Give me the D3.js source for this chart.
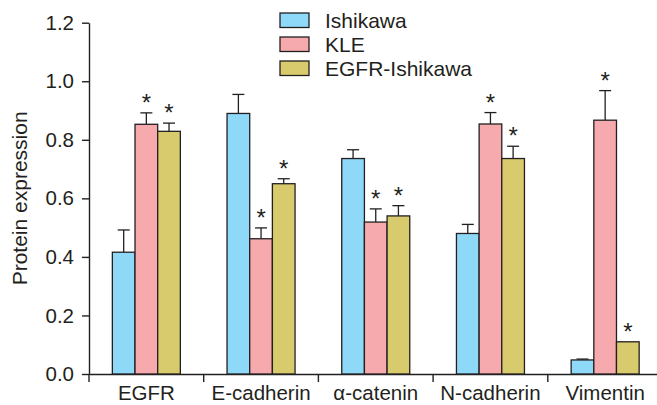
<!DOCTYPE html>
<html>
<head>
<meta charset="utf-8">
<script src="https://cdn.jsdelivr.net/npm/d3@7"></script>
<style>
  body { margin: 0; background: #fff; }
  text { font-family: "Liberation Sans", Arial, sans-serif; fill: #231f20; }
</style>
</head>
<body>
<svg width="657" height="405"></svg>
<script>
// values
const categories = ["EGFR", "E-cadherin", "\u03b1-catenin", "N-cadherin", "Vimentin"]
const seriesNames = ["Ishikawa", "KLE", "EGFR-Ishikawa"]
const ishikawa = [0.416, 0.890, 0.736, 0.480, 0.048]
const ishikawaErr = [0.076, 0.065, 0.030, 0.031, 0.003]
const kle = [0.853, 0.462, 0.519, 0.854, 0.867]
const kleErr = [0.039, 0.037, 0.045, 0.039, 0.101]
const egfrIshikawa = [0.829, 0.650, 0.540, 0.736, 0.110]
const egfrIshikawaErr = [0.028, 0.017, 0.035, 0.042, 0]
const ishikawaSig = [false, false, false, false, false]
const kleSig = [true, true, true, true, true]
const egfrIshikawaSig = [true, true, true, true, true]
const yTicks = [0, 0.2, 0.4, 0.6, 0.8, 1.0, 1.2]

const colors = ["#8ed8f8", "#f7aaad", "#d7cb6e"]
const ink = "#231f20"

function main() {
    const svg = d3.select("svg")

    const values = [ishikawa, kle, egfrIshikawa]
    const errs = [ishikawaErr, kleErr, egfrIshikawaErr]
    const sigs = [ishikawaSig, kleSig, egfrIshikawaSig]

    const x = d3.scaleBand().domain(categories).range([89, 662.5]).padding(0)
    const groupWidth = 68
    const xs = d3.scaleBand().domain(seriesNames).range([0, groupWidth])
    const y = d3.scaleLinear().domain([0, 1.2]).range([374, 22.7])

    // flatten into bar records
    const bars = []
    categories.forEach((c, i) => {
        seriesNames.forEach((s, j) => {
            bars.push({cat: c, series: s, idx: j, value: values[j][i], err: errs[j][i], sig: sigs[j][i]})
        })
    })
    const barX = d => x(d.cat) + (x.bandwidth() - groupWidth) / 2 + xs(d.series)

    // x axis
    const xAxis = svg.append("g")
        .attr("transform", "translate(0," + y(0) + ")")
        .call(d3.axisBottom(x).tickSize(0).tickPadding(11).tickSizeOuter(0))
    xAxis.select(".domain").attr("stroke", ink).attr("stroke-width", 1.4)
    xAxis.selectAll("text").attr("font-size", 20.5).style("fill", ink)

    xAxis.selectAll(".sep")
        .data(categories)
        .enter().append("line")
        .attr("class", "sep")
        .attr("x1", d => x(d)).attr("x2", d => x(d))
        .attr("y1", 0).attr("y2", 8)
        .attr("stroke", ink).attr("stroke-width", 1.4)

    // y axis
    const yAxis = svg.append("g")
        .attr("transform", "translate(" + x.range()[0] + ",0)")
        .call(d3.axisLeft(y).tickValues(yTicks).tickFormat(d3.format(".1f"))
            .tickSize(7).tickPadding(8).tickSizeOuter(0))
    yAxis.select(".domain").attr("stroke", ink).attr("stroke-width", 1.4)
    yAxis.selectAll(".tick line").attr("stroke", ink).attr("stroke-width", 1.4)
    yAxis.selectAll("text").attr("font-size", 20.5).style("fill", ink)

    svg.append("text")
        .attr("transform", "translate(27," + y(0.6) + ") rotate(-90)")
        .attr("text-anchor", "middle")
        .attr("font-size", 21)
        .text("Protein expression")

    // error bars
    const eb = svg.append("g").attr("stroke", ink).attr("stroke-width", 1.3)
    const withErr = bars.filter(d => d.err > 0)
    eb.selectAll(".ev")
        .data(withErr)
        .enter().append("line")
        .attr("x1", d => barX(d) + xs.bandwidth() / 2)
        .attr("x2", d => barX(d) + xs.bandwidth() / 2)
        .attr("y1", d => y(d.value))
        .attr("y2", d => y(d.value + d.err))
    eb.selectAll(".ec")
        .data(withErr)
        .enter().append("line")
        .attr("x1", d => barX(d) + xs.bandwidth() / 2 - 6)
        .attr("x2", d => barX(d) + xs.bandwidth() / 2 + 6)
        .attr("y1", d => y(d.value + d.err))
        .attr("y2", d => y(d.value + d.err))

    // bars
    svg.append("g").selectAll("rect")
        .data(bars)
        .enter().append("rect")
        .attr("x", barX)
        .attr("width", xs.bandwidth())
        .attr("y", d => y(d.value))
        .attr("height", d => y(0) - y(d.value))
        .attr("fill", d => colors[d.idx])
        .attr("stroke", ink)
        .attr("stroke-width", 1.3)

    // significance marks
    svg.append("g").selectAll("text")
        .data(bars.filter(d => d.sig))
        .enter().append("text")
        .attr("x", d => barX(d) + xs.bandwidth() / 2)
        .attr("y", d => y(d.value + d.err) - 2)
        .attr("text-anchor", "middle")
        .attr("font-size", 24)
        .text("*")

    // legend
    const legend = svg.append("g").attr("transform", "translate(280,13)")
    const item = legend.selectAll("g")
        .data(seriesNames)
        .enter().append("g")
        .attr("transform", (d, i) => "translate(0," + i * 24 + ")")
    item.append("rect")
        .attr("width", 29).attr("height", 14.5)
        .attr("fill", (d, i) => colors[i])
        .attr("stroke", ink).attr("stroke-width", 1.3)
    item.append("text")
        .attr("x", 45).attr("y", 14.5)
        .attr("font-size", 21)
        .text(d => d)
}

main()
</script>
</body>
</html>
